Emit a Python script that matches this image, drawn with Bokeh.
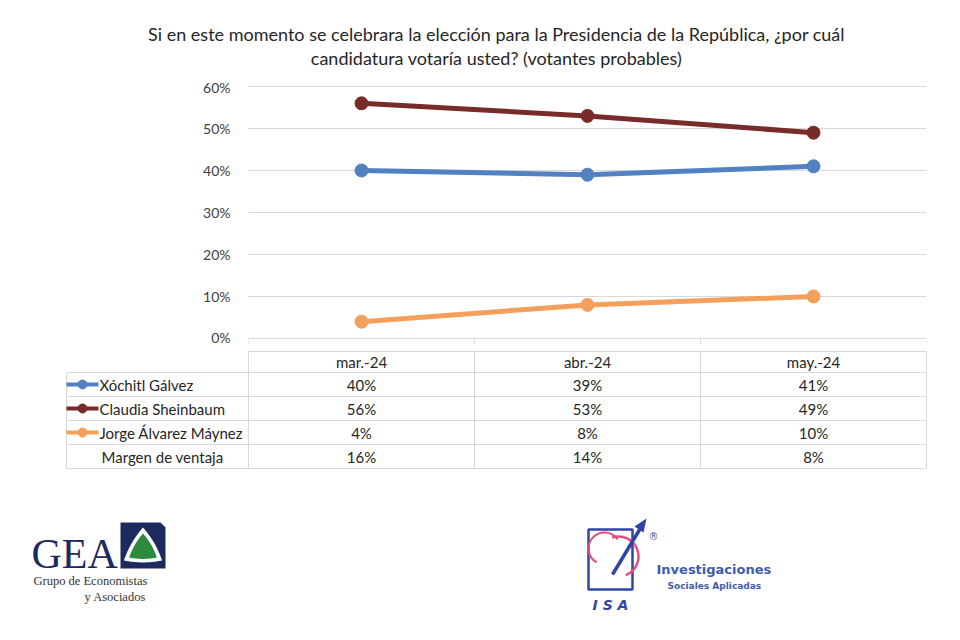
import numpy as np
from bokeh.plotting import figure
from bokeh.layouts import column
from bokeh.models import Range1d, FixedTicker, PrintfTickFormatter
from bokeh.core.properties import value
from bokeh.embed import file_html
from bokeh.resources import INLINE

# ---------------- data ----------------
months = ["mar.-24", "abr.-24", "may.-24"]
candidates = ["Xóchitl Gálvez", "Claudia Sheinbaum", "Jorge Álvarez Máynez"]
xochitl = [40, 39, 41]
claudia = [56, 53, 49]
jorge = [4, 8, 10]
margen = [16, 14, 8]
margin_label = "Margen de ventaja"
y_ticks = [0, 10, 20, 30, 40, 50, 60]
title_lines = [
    "Si en este momento se celebrara la elección para la Presidencia de la República, ¿por cuál",
    "candidatura votaría usted? (votantes probables)",
]
series = [xochitl, claudia, jorge]
colors = ["#5281C1", "#772C2A", "#F2A05B"]

FONT = "Lato"
TXT = "#262626"
GRID = "#d9d9d9"
W = 960

# layout constants (pixels)
FRAME_L, FRAME_R = 248, 926
COL_W = (FRAME_R - FRAME_L) / len(months)


def blank(height, y0, y1):
    f = figure(width=W, height=height, x_range=Range1d(0, W), y_range=Range1d(y1, y0),
               output_backend="svg", toolbar_location=None, min_border=0,
               x_axis_location=None, y_axis_location=None)
    f.frame_align = False
    f.outline_line_color = None
    f.grid.visible = False
    f.background_fill_color = "white"
    f.border_fill_color = "white"
    return f


# ---------------- title ----------------
t = blank(78, 0, 78)
t.text(x=[496, 496], y=[33, 57], text=title_lines, text_align="center",
       text_baseline="middle", text_font=value(FONT), text_font_size="18px", text_color=TXT)

# ---------------- chart ----------------
px_per_unit = 4.2
y_lo = -7 / px_per_unit
y_hi = 60 + 6 / px_per_unit
p = figure(width=W, height=267, x_range=Range1d(0, len(months)), y_range=Range1d(y_lo, y_hi),
           output_backend="svg", toolbar_location=None, x_axis_location=None,
           min_border_left=FRAME_L, min_border_right=W - FRAME_R, min_border_top=2,
           min_border_bottom=0)
p.frame_align = False
p.outline_line_color = None
p.xgrid.visible = False
p.ygrid.grid_line_color = GRID
p.ygrid.ticker = FixedTicker(ticks=y_ticks)
p.yaxis.ticker = FixedTicker(ticks=y_ticks)
p.yaxis.formatter = PrintfTickFormatter(format="%d%%")
p.yaxis.axis_line_color = None
p.yaxis.major_tick_line_color = None
p.yaxis.minor_tick_line_color = None
p.yaxis.major_label_standoff = 12
p.yaxis.major_label_text_font = FONT
p.yaxis.major_label_text_font_size = "14px"
p.yaxis.major_label_text_color = "#404040"

bounds = list(range(len(months) + 1))
p.segment(x0=bounds, y0=[0] * len(bounds), x1=bounds, y1=[-1.3] * len(bounds),
          line_color=GRID, line_width=1)

xs = [i + 0.5 for i in range(len(months))]
for vals, c in zip(series, colors):
    p.line(xs, vals, line_color=c, line_width=5)
    p.scatter(xs, vals, size=13, fill_color=c, line_color=c)

# ---------------- table ----------------
tb = blank(135, 345, 480)
rows_y = [351, 372, 396, 420, 444, 468]
LEFT = 66
col_edges = [FRAME_L + COL_W * i for i in range(len(months) + 1)]
col_centers = [FRAME_L + COL_W * (i + 0.5) for i in range(len(months))]
# horizontal lines
tb.segment(x0=[FRAME_L], y0=[rows_y[0]], x1=[FRAME_R], y1=[rows_y[0]], line_color=GRID)
tb.segment(x0=[LEFT] * 5, y0=rows_y[1:], x1=[FRAME_R] * 5, y1=rows_y[1:], line_color=GRID)
# vertical lines
tb.segment(x0=col_edges, y0=[rows_y[0]] * len(col_edges), x1=col_edges,
           y1=[rows_y[-1]] * len(col_edges), line_color=GRID)
tb.segment(x0=[LEFT], y0=[rows_y[1]], x1=[LEFT], y1=[rows_y[-1]], line_color=GRID)

mid = [(rows_y[i] + rows_y[i + 1]) / 2 for i in range(5)]
tb.text(x=col_centers, y=[mid[0]] * len(months), text=months, text_align="center",
        text_baseline="middle", text_font=value(FONT), text_font_size="15px", text_color=TXT)
for r, (name, vals, c) in enumerate(zip(candidates, series, colors)):
    yy = mid[r + 1]
    tb.line([LEFT, 98], [yy, yy], line_color=c, line_width=4)
    tb.scatter([82], [yy], size=9, fill_color=c, line_color=c)
    tb.text(x=[99], y=[yy], text=[name], text_align="left", text_baseline="middle",
            text_font=value(FONT), text_font_size="15px", text_color=TXT)
    tb.text(x=col_centers, y=[yy] * len(months), text=[f"{v}%" for v in vals],
            text_align="center", text_baseline="middle", text_font=value(FONT),
            text_font_size="15px", text_color=TXT)
tb.text(x=[162], y=[mid[4]], text=[margin_label], text_align="center", text_baseline="middle",
        text_font=value(FONT), text_font_size="15px", text_color=TXT)
tb.text(x=col_centers, y=[mid[4]] * len(months), text=[f"{v}%" for v in margen],
        text_align="center", text_baseline="middle", text_font=value(FONT),
        text_font_size="15px", text_color=TXT)

# ---------------- logos ----------------
lg = blank(160, 480, 640)
NAVY = "#1C2A5E"
# GEA
lg.text(x=[31], y=[553], text=["GEA"], text_font=value("Liberation Serif"),
        text_font_size="42px", text_color=NAVY, text_baseline="middle")
lg.text(x=[33], y=[580], text=["Grupo de Economistas"], text_font=value("Liberation Serif"),
        text_font_size="12.5px", text_color="#333333", text_baseline="middle")
lg.text(x=[84], y=[596], text=["y Asociados"], text_font=value("Liberation Serif"),
        text_font_size="12.5px", text_color="#333333", text_baseline="middle")
lg.patch([120, 160, 165, 165, 120], [522, 522, 527, 568, 568], fill_color=NAVY, line_color=None)


def rounded_tri(cx, cy, r, n=40):
    ang = [-90, 30, 150]
    pts_x, pts_y = [], []
    for k in range(3):
        a0 = np.radians(ang[k])
        a1 = np.radians(ang[(k + 1) % 3])
        ax, ay = cx + r * np.cos(a0), cy + r * np.sin(a0)
        bx, by = cx + r * np.cos(a1), cy + r * np.sin(a1)
        mx, my = (ax + bx) / 2, (ay + by) / 2
        qx, qy = mx + (mx - cx) * 0.35, my + (my - cy) * 0.35
        for tt in np.linspace(0, 1, n):
            pts_x.append((1 - tt) ** 2 * ax + 2 * (1 - tt) * tt * qx + tt ** 2 * bx)
            pts_y.append((1 - tt) ** 2 * ay + 2 * (1 - tt) * tt * qy + tt ** 2 * by)
    return pts_x, pts_y


wx, wy = rounded_tri(142.5, 549, 22)
lg.patch(wx, wy, fill_color="white", line_color=None)
gx, gy = rounded_tri(142.5, 549, 16)
lg.patch(gx, gy, fill_color="#2E8B3E", line_color=None)

# ISA
BLUE = "#2F44A6"
lg.patch([588, 632, 632, 588], [529, 529, 589, 589], fill_color=None, line_color=BLUE, line_width=2.5)
lg.arc(x=[604], y=[548], radius=16, start_angle=0.6, end_angle=4.2, line_color="#E2507A", line_width=2)
lg.arc(x=[618], y=[556], radius=20, start_angle=-1.2, end_angle=1.9, line_color="#E2507A", line_width=2.5)
lg.segment(x0=[612], y0=[574], x1=[641], y1=[526], line_color=BLUE, line_width=3.5)
lg.patch([646, 634, 643], [518, 526, 532], fill_color=BLUE, line_color=None)
lg.text(x=[610], y=[604], text=["I S A"], text_align="center", text_font=value("DejaVu Sans"),
        text_font_style="bold italic", text_font_size="14px", text_color=BLUE,
        text_baseline="alphabetic")
lg.text(x=[653], y=[536], text=["®"], text_align="center", text_baseline="middle",
        text_font=value("DejaVu Sans"), text_font_size="10px", text_color="#3E5CB0")
lg.text(x=[656], y=[569], text=["Investigaciones"], text_font=value("DejaVu Sans"),
        text_font_style="bold", text_font_size="13px", text_color="#3E5CB0",
        text_baseline="middle")
lg.text(x=[667], y=[585], text=["Sociales Aplicadas"], text_font=value("DejaVu Sans"),
        text_font_style="bold", text_font_size="9px", text_color="#3E5CB0",
        text_baseline="middle")

layout = column(t, p, tb, lg, spacing=0)
open("out.html", "w").write(file_html(layout, INLINE))
